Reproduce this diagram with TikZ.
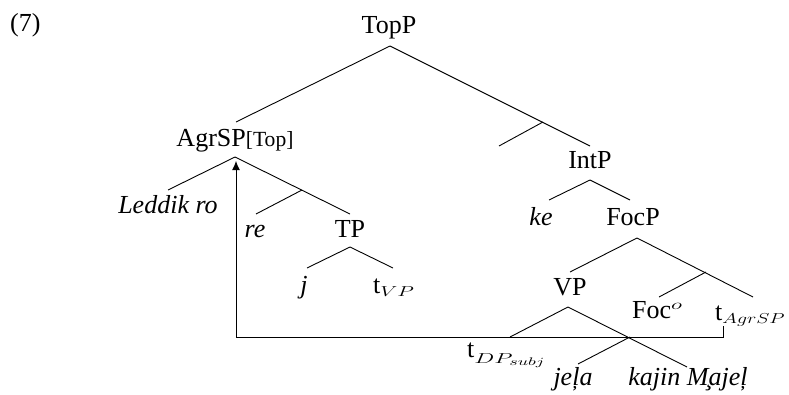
\documentclass[tikz,border=0pt]{standalone}
\usepackage{fontspec}
\usepackage{graphicx}
\setmainfont{Liberation Serif}
\usetikzlibrary{arrows.meta}
\newcommand\wsub[3][-4pt]{\raisebox{#1}{\scalebox{#2}[1]{\fontsize{15}{15}\selectfont$#3$}}}
\begin{document}
\begin{tikzpicture}[x=1pt,y=-1pt,
  lbl/.style={inner sep=0pt, font=\fontsize{26}{30}\selectfont},
  itl/.style={inner sep=0pt, font=\fontsize{26}{30}\selectfont\itshape},
  br/.style={line width=0.9pt},
  mv/.style={line width=0.9pt, -{Latex[length=9pt,width=8pt]}}]
\useasboundingbox (0,0) rectangle (789,394);
% labels
\node[lbl,anchor=base west] (ex) at (10,31) {(7)};
\node[lbl,anchor=base] (TopP) at (389,33) {TopP};
\node[lbl,anchor=base] (AgrSP) at (235,146) {AgrSP{\fontsize{21.6}{24}\selectfont[Top]}};
\node[itl,anchor=base] (Leddik) at (168,213) {Leddik ro};
\node[itl,anchor=base] (re) at (255,237) {re};
\node[lbl,anchor=base] (TP) at (350,237) {TP};
\node[itl,anchor=base] (j) at (304,293) {j};
\node[lbl,anchor=base west] (tVP) at (373,293) {t\wsub[-3pt]{1.5}{VP}};
\node[lbl,anchor=base] (IntP) at (590,168) {IntP};
\node[itl,anchor=base] (ke) at (541,225) {ke};
\node[lbl,anchor=base] (FocP) at (633,225) {FocP};
\node[lbl,anchor=base] (VP) at (570,295) {VP};
\node[lbl,anchor=base west] (Foc) at (632,318) {Foc\raisebox{9pt}{\scalebox{1.6}[1]{\fontsize{15}{15}\selectfont$o$}}};
\node[lbl,anchor=base west] (tAgr) at (715,320) {t\wsub[-3pt]{1.38}{AgrSP}};
\node[lbl,anchor=base west] (tDP) at (467,357) {t\wsub[-6pt]{1.65}{DP_{subj}}};
\node[itl,anchor=base] (jela) at (573,385) {jeļa};
\node[itl,anchor=base] (kajin) at (688,385) {kajin M̧ajeļ};
% branch points
\coordinate (TopP-a) at (390,46);
\coordinate (AgrSP-t) at (236,122);
\coordinate (IntP-t) at (590,146);
\coordinate (TopP-b) at (543,122);
\coordinate (TopP-bl) at (499,146);
\coordinate (AgrSP-a) at (235,157);
\coordinate (Leddik-t) at (168,190);
\coordinate (TP-t) at (350,214);
\coordinate (AgrSP-b) at (302,190);
\coordinate (re-t) at (256,214);
\coordinate (TP-a) at (350,247);
\coordinate (j-t) at (307,268);
\coordinate (tVP-t) at (393,268);
\coordinate (IntP-a) at (590,180);
\coordinate (ke-t) at (549,200);
\coordinate (FocP-t) at (630,200);
\coordinate (FocP-a) at (637,238);
\coordinate (VP-t) at (570,272);
\coordinate (tAgr-t) at (753,297);
\coordinate (FocP-b) at (706,272);
\coordinate (Foc-t) at (659,297);
\coordinate (VP-a) at (568,307);
\coordinate (tDP-t) at (510,337);
\coordinate (kajin-t) at (687,367);
\coordinate (VP-b) at (630,337);
\coordinate (jela-t) at (578,364);
\coordinate (tAgr-b) at (723,326);
\coordinate (mv-r) at (723,337);
\coordinate (mv-l) at (236,337);
\coordinate (mv-end) at (236,161);
% branches
\draw[br] (AgrSP-t) -- (TopP-a) -- (IntP-t);
\draw[br] (TopP-b) -- (TopP-bl);
\draw[br] (Leddik-t) -- (AgrSP-a) -- (TP-t);
\draw[br] (AgrSP-b) -- (re-t);
\draw[br] (j-t) -- (TP-a) -- (tVP-t);
\draw[br] (ke-t) -- (IntP-a) -- (FocP-t);
\draw[br] (VP-t) -- (FocP-a) -- (tAgr-t);
\draw[br] (FocP-b) -- (Foc-t);
\draw[br] (tDP-t) -- (VP-a) -- (kajin-t);
\draw[br] (VP-b) -- (jela-t);
% movement
\draw[mv] (tAgr-b) -- (mv-r) -- (mv-l) -- (mv-end);
\end{tikzpicture}
\end{document}
